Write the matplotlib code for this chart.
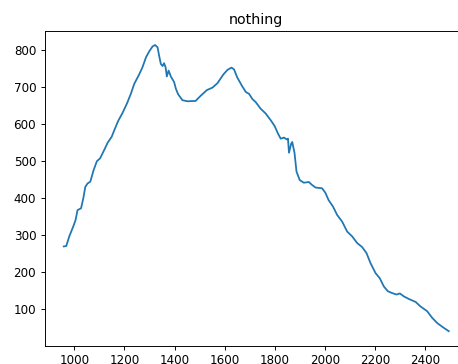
import matplotlib
matplotlib.use("Agg")
import matplotlib.pyplot as plt

x = [958, 968, 980, 996, 1005, 1013, 1027, 1036, 1044, 1053, 1064, 1077, 1090, 1103,
     1119, 1133, 1149, 1162, 1175, 1192, 1210, 1226, 1239, 1259, 1272, 1286, 1299,
     1312, 1322, 1332, 1338, 1345, 1352, 1358, 1364, 1369, 1376, 1385, 1398, 1405,
     1414, 1431, 1451, 1484, 1501, 1528, 1551, 1571, 1595, 1611, 1627, 1637, 1650,
     1670, 1684, 1697, 1710, 1723, 1743, 1763, 1783, 1799, 1812, 1823, 1836, 1847,
     1852, 1856, 1865, 1869, 1878, 1886, 1899, 1915, 1935, 1948, 1962, 1988, 2001,
     2014, 2032, 2048, 2068, 2088, 2108, 2128, 2148, 2165, 2181, 2201, 2218, 2234,
     2250, 2267, 2285, 2298, 2314, 2334, 2361, 2380, 2407, 2427, 2447, 2467, 2493]
y = [269, 270, 296, 323, 340, 367, 372, 399, 430, 439, 444, 475, 499, 507,
     529, 549, 565, 587, 608, 629, 655, 682, 708, 734, 753, 780, 796,
     809, 813, 807, 785, 762, 756, 764, 753, 728, 744, 728, 713, 695,
     680, 664, 661, 662, 674, 691, 698, 710, 734, 746, 752, 747, 725,
     701, 686, 681, 667, 659, 641, 628, 610, 594, 574, 560, 563, 558,
     560, 522, 547, 551, 522, 471, 448, 441, 443, 435, 428, 426, 414,
     394, 376, 354, 336, 309, 296, 278, 267, 251, 224, 197, 183, 161,
     148, 143, 139, 142, 134, 127, 119, 107, 94, 76, 62, 52, 40]

dpi = 85.3
fig = plt.figure(figsize=(458 / dpi, 364 / dpi), dpi=dpi)
ax = fig.add_axes([44.5 / 458, (364 - 345.5) / 364, 423.5 / 458, 314.8 / 364])
ax.plot(x, y, color="#1f77b4")
ax.set_title("nothing")
ax.set_xticks([1000, 1200, 1400, 1600, 1800, 2000, 2200, 2400])
ax.set_yticks([100, 200, 300, 400, 500, 600, 700, 800])
fig.savefig("out.png", dpi=dpi)
